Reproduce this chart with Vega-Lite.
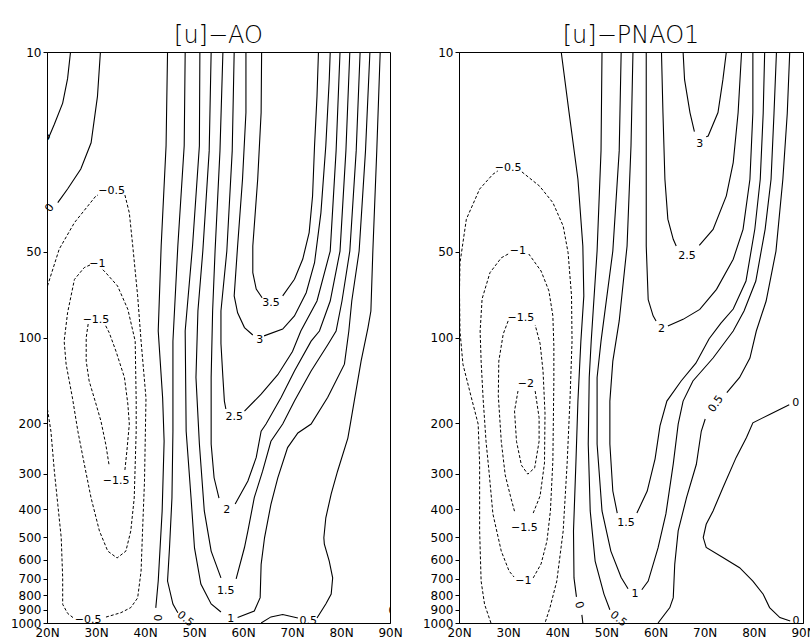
{
"$schema":"https://vega.github.io/schema/vega-lite/v6.json",
"padding":{"left":0,"top":23,"right":0,"bottom":0},
"spacing":9,
"config":{"view":{"stroke":"black","strokeWidth":1},
"axis":{"grid":false,"title":null,"domainColor":"black","tickColor":"black","labelColor":"black","labelFont":"DejaVu Sans","labelFontSize":12,"labelFlush":false,"labelOverlap":false},
"title":{"font":"DejaVu Sans","fontSize":24,"fontWeight":200,"color":"black","offset":-2}},
"datasets":{
"lines":[
{"g":"a","c":"A","v":0.5,"x":24.8,"p":10},{"g":"a","c":"A","v":0.5,"x":24.2,"p":12.4},{"g":"a","c":"A","v":0.5,"x":23.2,"p":15.1},{"g":"a","c":"A","v":0.5,"x":21.5,"p":17.9},{"g":"a","c":"A","v":0.5,"x":20.2,"p":20.2},
{"g":"a","c":"B","v":0,"x":30.9,"p":10},{"g":"a","c":"B","v":0,"x":30.3,"p":14.3},{"g":"a","c":"B","v":0,"x":29,"p":20.8},{"g":"a","c":"B","v":0,"x":26.9,"p":25.7},{"g":"a","c":"B","v":0,"x":24.2,"p":30.2},{"g":"a","c":"B","v":0,"x":22.2,"p":33.7},
{"g":"a","c":"C1","v":-0.5,"x":20.1,"p":66},{"g":"a","c":"C1","v":-0.5,"x":22.5,"p":49},{"g":"a","c":"C1","v":-0.5,"x":25.6,"p":39.6},{"g":"a","c":"C1","v":-0.5,"x":30,"p":31.9},{"g":"a","c":"C1","v":-0.5,"x":30.4,"p":31.7},
{"g":"a","c":"C2","v":-0.5,"x":35.9,"p":31.7},{"g":"a","c":"C2","v":-0.5,"x":36.8,"p":36.6},{"g":"a","c":"C2","v":-0.5,"x":37.5,"p":47.8},{"g":"a","c":"C2","v":-0.5,"x":38.5,"p":71.5},{"g":"a","c":"C2","v":-0.5,"x":39.2,"p":103},{"g":"a","c":"C2","v":-0.5,"x":40.2,"p":163},{"g":"a","c":"C2","v":-0.5,"x":39.9,"p":318},{"g":"a","c":"C2","v":-0.5,"x":39.5,"p":476},{"g":"a","c":"C2","v":-0.5,"x":39.2,"p":658},{"g":"a","c":"C2","v":-0.5,"x":38.5,"p":817},{"g":"a","c":"C2","v":-0.5,"x":37.1,"p":883},{"g":"a","c":"C2","v":-0.5,"x":35.1,"p":920},{"g":"a","c":"C2","v":-0.5,"x":31.7,"p":957},
{"g":"a","c":"C3","v":-0.5,"x":25.3,"p":957},{"g":"a","c":"C3","v":-0.5,"x":24.2,"p":925},{"g":"a","c":"C3","v":-0.5,"x":23.2,"p":860},{"g":"a","c":"C3","v":-0.5,"x":23.2,"p":693},{"g":"a","c":"C3","v":-0.5,"x":22.9,"p":502},{"g":"a","c":"C3","v":-0.5,"x":22.2,"p":384},{"g":"a","c":"C3","v":-0.5,"x":21.5,"p":294},{"g":"a","c":"C3","v":-0.5,"x":20.8,"p":213},{"g":"a","c":"C3","v":-0.5,"x":20,"p":174},
{"g":"a","c":"D","v":-1,"x":31.4,"p":57.9},{"g":"a","c":"D","v":-1,"x":32,"p":59.3},{"g":"a","c":"D","v":-1,"x":34.4,"p":66},{"g":"a","c":"D","v":-1,"x":36.5,"p":79.7},{"g":"a","c":"D","v":-1,"x":38,"p":103},{"g":"a","c":"D","v":-1,"x":38.2,"p":167},{"g":"a","c":"D","v":-1,"x":38.2,"p":213},{"g":"a","c":"D","v":-1,"x":37.8,"p":365},{"g":"a","c":"D","v":-1,"x":37.1,"p":476},{"g":"a","c":"D","v":-1,"x":36.1,"p":560},{"g":"a","c":"D","v":-1,"x":34.3,"p":592},{"g":"a","c":"D","v":-1,"x":32.4,"p":560},{"g":"a","c":"D","v":-1,"x":30.7,"p":476},{"g":"a","c":"D","v":-1,"x":29,"p":365},{"g":"a","c":"D","v":-1,"x":27.6,"p":277},{"g":"a","c":"D","v":-1,"x":26.3,"p":213},{"g":"a","c":"D","v":-1,"x":25.2,"p":163},{"g":"a","c":"D","v":-1,"x":23.9,"p":124},{"g":"a","c":"D","v":-1,"x":23.5,"p":103},{"g":"a","c":"D","v":-1,"x":24.2,"p":81.9},{"g":"a","c":"D","v":-1,"x":25.6,"p":62.6},{"g":"a","c":"D","v":-1,"x":27.6,"p":56.9},{"g":"a","c":"D","v":-1,"x":28.8,"p":55.7},
{"g":"a","c":"E1","v":-1.5,"x":28.4,"p":89.7},{"g":"a","c":"E1","v":-1.5,"x":28,"p":100},{"g":"a","c":"E1","v":-1.5,"x":28,"p":121},{"g":"a","c":"E1","v":-1.5,"x":28.6,"p":142},{"g":"a","c":"E1","v":-1.5,"x":30,"p":171},{"g":"a","c":"E1","v":-1.5,"x":31,"p":196},{"g":"a","c":"E1","v":-1.5,"x":32,"p":237},{"g":"a","c":"E1","v":-1.5,"x":32.7,"p":282},
{"g":"a","c":"E2","v":-1.5,"x":35.9,"p":291},{"g":"a","c":"E2","v":-1.5,"x":36.3,"p":250},{"g":"a","c":"E2","v":-1.5,"x":36.8,"p":201},{"g":"a","c":"E2","v":-1.5,"x":36.5,"p":171},{"g":"a","c":"E2","v":-1.5,"x":35.8,"p":138},{"g":"a","c":"E2","v":-1.5,"x":34.1,"p":112},{"g":"a","c":"E2","v":-1.5,"x":32.7,"p":96.2},{"g":"a","c":"E2","v":-1.5,"x":31.8,"p":89.7},
{"g":"a","c":"F","v":0,"x":44.6,"p":10},{"g":"a","c":"F","v":0,"x":44.3,"p":21.3},{"g":"a","c":"F","v":0,"x":43.3,"p":47.8},{"g":"a","c":"F","v":0,"x":42.7,"p":94.9},{"g":"a","c":"F","v":0,"x":43.6,"p":163},{"g":"a","c":"F","v":0,"x":43.9,"p":231},{"g":"a","c":"F","v":0,"x":43.5,"p":405},{"g":"a","c":"F","v":0,"x":42.7,"p":713},{"g":"a","c":"F","v":0,"x":42.2,"p":885},
{"g":"a","c":"G","v":0.5,"x":48.2,"p":10},{"g":"a","c":"G","v":0.5,"x":48,"p":21.3},{"g":"a","c":"G","v":0.5,"x":46.7,"p":47.8},{"g":"a","c":"G","v":0.5,"x":45.7,"p":103},{"g":"a","c":"G","v":0.5,"x":45.7,"p":213},{"g":"a","c":"G","v":0.5,"x":45.5,"p":365},{"g":"a","c":"G","v":0.5,"x":45,"p":546},{"g":"a","c":"G","v":0.5,"x":44.6,"p":713},{"g":"a","c":"G","v":0.5,"x":45.7,"p":858},{"g":"a","c":"G","v":0.5,"x":46.7,"p":920},
{"g":"a","c":"H1","v":1,"x":51.2,"p":10},{"g":"a","c":"H1","v":1,"x":51.1,"p":21.3},{"g":"a","c":"H1","v":1,"x":49.7,"p":47.8},{"g":"a","c":"H1","v":1,"x":48.2,"p":94.9},{"g":"a","c":"H1","v":1,"x":48.4,"p":213},{"g":"a","c":"H1","v":1,"x":49.4,"p":365},{"g":"a","c":"H1","v":1,"x":50.1,"p":546},{"g":"a","c":"H1","v":1,"x":51.4,"p":730},{"g":"a","c":"H1","v":1,"x":53.5,"p":858},{"g":"a","c":"H1","v":1,"x":55.5,"p":915},
{"g":"a","c":"H2","v":1,"x":58.9,"p":957},{"g":"a","c":"H2","v":1,"x":62.3,"p":908},{"g":"a","c":"H2","v":1,"x":63.5,"p":815},{"g":"a","c":"H2","v":1,"x":63.7,"p":623},{"g":"a","c":"H2","v":1,"x":64.4,"p":502},{"g":"a","c":"H2","v":1,"x":65.7,"p":384},{"g":"a","c":"H2","v":1,"x":67.1,"p":310},{"g":"a","c":"H2","v":1,"x":69.1,"p":243},{"g":"a","c":"H2","v":1,"x":71.2,"p":216},{"g":"a","c":"H2","v":1,"x":73.9,"p":201},{"g":"a","c":"H2","v":1,"x":77.3,"p":162},{"g":"a","c":"H2","v":1,"x":80.7,"p":124},{"g":"a","c":"H2","v":1,"x":81.6,"p":94.9},{"g":"a","c":"H2","v":1,"x":82.2,"p":74.5},{"g":"a","c":"H2","v":1,"x":83.7,"p":49.8},{"g":"a","c":"H2","v":1,"x":85,"p":22.2},{"g":"a","c":"H2","v":1,"x":85.9,"p":10},
{"g":"a","c":"I1","v":1.5,"x":53.5,"p":10},{"g":"a","c":"I1","v":1.5,"x":53.1,"p":22.2},{"g":"a","c":"I1","v":1.5,"x":51.8,"p":49.8},{"g":"a","c":"I1","v":1.5,"x":50.8,"p":80.8},{"g":"a","c":"I1","v":1.5,"x":50.4,"p":138},{"g":"a","c":"I1","v":1.5,"x":51.1,"p":236},{"g":"a","c":"I1","v":1.5,"x":52.1,"p":405},{"g":"a","c":"I1","v":1.5,"x":53.5,"p":560},{"g":"a","c":"I1","v":1.5,"x":55.5,"p":695},
{"g":"a","c":"I2","v":1.5,"x":58.6,"p":701},{"g":"a","c":"I2","v":1.5,"x":60.3,"p":544},{"g":"a","c":"I2","v":1.5,"x":61,"p":476},{"g":"a","c":"I2","v":1.5,"x":62.3,"p":364},{"g":"a","c":"I2","v":1.5,"x":64,"p":294},{"g":"a","c":"I2","v":1.5,"x":65.7,"p":231},{"g":"a","c":"I2","v":1.5,"x":68.1,"p":201},{"g":"a","c":"I2","v":1.5,"x":70.5,"p":167},{"g":"a","c":"I2","v":1.5,"x":73.9,"p":131},{"g":"a","c":"I2","v":1.5,"x":77.3,"p":106},{"g":"a","c":"I2","v":1.5,"x":79,"p":94.9},{"g":"a","c":"I2","v":1.5,"x":80.2,"p":74.5},{"g":"a","c":"I2","v":1.5,"x":81.8,"p":49.8},{"g":"a","c":"I2","v":1.5,"x":83.1,"p":22.2},{"g":"a","c":"I2","v":1.5,"x":83.9,"p":10},
{"g":"a","c":"J1","v":2,"x":55.9,"p":10},{"g":"a","c":"J1","v":2,"x":55.3,"p":22.2},{"g":"a","c":"J1","v":2,"x":54.3,"p":49.8},{"g":"a","c":"J1","v":2,"x":53.8,"p":80.8},{"g":"a","c":"J1","v":2,"x":53.5,"p":138},{"g":"a","c":"J1","v":2,"x":53.5,"p":236},{"g":"a","c":"J1","v":2,"x":54.1,"p":310},{"g":"a","c":"J1","v":2,"x":55.1,"p":365},
{"g":"a","c":"J2","v":2,"x":58.4,"p":383},{"g":"a","c":"J2","v":2,"x":61,"p":318},{"g":"a","c":"J2","v":2,"x":62.7,"p":263},{"g":"a","c":"J2","v":2,"x":63.7,"p":213},{"g":"a","c":"J2","v":2,"x":64.7,"p":201},{"g":"a","c":"J2","v":2,"x":67.8,"p":162},{"g":"a","c":"J2","v":2,"x":70.5,"p":131},{"g":"a","c":"J2","v":2,"x":73.9,"p":103},{"g":"a","c":"J2","v":2,"x":75.6,"p":94.9},{"g":"a","c":"J2","v":2,"x":77.8,"p":74.5},{"g":"a","c":"J2","v":2,"x":79.8,"p":49.8},{"g":"a","c":"J2","v":2,"x":81,"p":22.2},{"g":"a","c":"J2","v":2,"x":81.8,"p":10},
{"g":"a","c":"K1","v":2.5,"x":58.2,"p":10},{"g":"a","c":"K1","v":2.5,"x":57.8,"p":22.2},{"g":"a","c":"K1","v":2.5,"x":56.7,"p":49.8},{"g":"a","c":"K1","v":2.5,"x":55.5,"p":80.8},{"g":"a","c":"K1","v":2.5,"x":55.5,"p":105},{"g":"a","c":"K1","v":2.5,"x":55.9,"p":138},{"g":"a","c":"K1","v":2.5,"x":56.2,"p":167},{"g":"a","c":"K1","v":2.5,"x":56.5,"p":178},
{"g":"a","c":"K2","v":2.5,"x":60.3,"p":181},{"g":"a","c":"K2","v":2.5,"x":63.7,"p":158},{"g":"a","c":"K2","v":2.5,"x":67.1,"p":135},{"g":"a","c":"K2","v":2.5,"x":70.1,"p":112},{"g":"a","c":"K2","v":2.5,"x":71.8,"p":94.9},{"g":"a","c":"K2","v":2.5,"x":75.1,"p":74.5},{"g":"a","c":"K2","v":2.5,"x":77.8,"p":49.8},{"g":"a","c":"K2","v":2.5,"x":79,"p":22.2},{"g":"a","c":"K2","v":2.5,"x":79.8,"p":10},
{"g":"a","c":"L1","v":3,"x":60.6,"p":10},{"g":"a","c":"L1","v":3,"x":60.6,"p":16.3},{"g":"a","c":"L1","v":3,"x":59.9,"p":27.9},{"g":"a","c":"L1","v":3,"x":58.9,"p":47.8},{"g":"a","c":"L1","v":3,"x":58.2,"p":71.5},{"g":"a","c":"L1","v":3,"x":58.9,"p":81.9},{"g":"a","c":"L1","v":3,"x":60.3,"p":92.3},{"g":"a","c":"L1","v":3,"x":62,"p":98},
{"g":"a","c":"L2","v":3,"x":64.3,"p":98.7},{"g":"a","c":"L2","v":3,"x":68.1,"p":93.4},{"g":"a","c":"L2","v":3,"x":70.5,"p":84},{"g":"a","c":"L2","v":3,"x":72.9,"p":69.7},{"g":"a","c":"L2","v":3,"x":74.6,"p":54.7},{"g":"a","c":"L2","v":3,"x":75.9,"p":36.6},{"g":"a","c":"L2","v":3,"x":76.9,"p":21.3},{"g":"a","c":"L2","v":3,"x":77.6,"p":12.5},{"g":"a","c":"L2","v":3,"x":77.8,"p":10},
{"g":"a","c":"M1","v":3.5,"x":63.8,"p":10},{"g":"a","c":"M1","v":3.5,"x":63.7,"p":16.3},{"g":"a","c":"M1","v":3.5,"x":63,"p":27.9},{"g":"a","c":"M1","v":3.5,"x":62,"p":47.8},{"g":"a","c":"M1","v":3.5,"x":62,"p":59.3},{"g":"a","c":"M1","v":3.5,"x":62.7,"p":67.7},{"g":"a","c":"M1","v":3.5,"x":63.9,"p":72.6},
{"g":"a","c":"M2","v":3.5,"x":68.1,"p":71.5},{"g":"a","c":"M2","v":3.5,"x":70.5,"p":62.5},{"g":"a","c":"M2","v":3.5,"x":72.2,"p":53.1},{"g":"a","c":"M2","v":3.5,"x":73.5,"p":42.9},{"g":"a","c":"M2","v":3.5,"x":74.2,"p":31.9},{"g":"a","c":"M2","v":3.5,"x":74.6,"p":21.3},{"g":"a","c":"M2","v":3.5,"x":75.1,"p":14.3},{"g":"a","c":"M2","v":3.5,"x":75.4,"p":10},
{"g":"a","c":"N1","v":0.5,"x":88,"p":10},{"g":"a","c":"N1","v":0.5,"x":87.3,"p":22.2},{"g":"a","c":"N1","v":0.5,"x":86.5,"p":49.8},{"g":"a","c":"N1","v":0.5,"x":86.1,"p":80.8},{"g":"a","c":"N1","v":0.5,"x":85.5,"p":92.5},{"g":"a","c":"N1","v":0.5,"x":84.1,"p":121},{"g":"a","c":"N1","v":0.5,"x":82.7,"p":167},{"g":"a","c":"N1","v":0.5,"x":81.9,"p":201},{"g":"a","c":"N1","v":0.5,"x":81.4,"p":225},{"g":"a","c":"N1","v":0.5,"x":79.3,"p":294},{"g":"a","c":"N1","v":0.5,"x":78,"p":353},{"g":"a","c":"N1","v":0.5,"x":76.9,"p":428},{"g":"a","c":"N1","v":0.5,"x":76.5,"p":503},{"g":"a","c":"N1","v":0.5,"x":76.6,"p":529},{"g":"a","c":"N1","v":0.5,"x":77.6,"p":607},{"g":"a","c":"N1","v":0.5,"x":78.3,"p":695},{"g":"a","c":"N1","v":0.5,"x":78,"p":792},{"g":"a","c":"N1","v":0.5,"x":76.9,"p":858},{"g":"a","c":"N1","v":0.5,"x":75.1,"p":960},
{"g":"a","c":"N2","v":0.5,"x":71.2,"p":960},{"g":"a","c":"N2","v":0.5,"x":68.1,"p":934},{"g":"a","c":"N2","v":0.5,"x":65.7,"p":952},{"g":"a","c":"N2","v":0.5,"x":63.7,"p":1000},
{"g":"b","c":"P1","v":-0.5,"x":26.5,"p":1000},{"g":"b","c":"P1","v":-0.5,"x":25.2,"p":860},{"g":"b","c":"P1","v":-0.5,"x":24.5,"p":713},{"g":"b","c":"P1","v":-0.5,"x":24.2,"p":476},{"g":"b","c":"P1","v":-0.5,"x":24.2,"p":278},{"g":"b","c":"P1","v":-0.5,"x":23.9,"p":201},{"g":"b","c":"P1","v":-0.5,"x":22.5,"p":162},{"g":"b","c":"P1","v":-0.5,"x":20.8,"p":124},{"g":"b","c":"P1","v":-0.5,"x":20.2,"p":94.9},{"g":"b","c":"P1","v":-0.5,"x":20.1,"p":68.7},{"g":"b","c":"P1","v":-0.5,"x":20.2,"p":54.8},{"g":"b","c":"P1","v":-0.5,"x":21.5,"p":38.5},{"g":"b","c":"P1","v":-0.5,"x":24.2,"p":30.2},{"g":"b","c":"P1","v":-0.5,"x":26.9,"p":26.8},{"g":"b","c":"P1","v":-0.5,"x":27.9,"p":26.1},
{"g":"b","c":"P2","v":-0.5,"x":32.8,"p":26.3},{"g":"b","c":"P2","v":-0.5,"x":36.4,"p":29.5},{"g":"b","c":"P2","v":-0.5,"x":39.1,"p":33.7},{"g":"b","c":"P2","v":-0.5,"x":41.2,"p":40.7},{"g":"b","c":"P2","v":-0.5,"x":42.2,"p":50.5},{"g":"b","c":"P2","v":-0.5,"x":42.9,"p":71.5},{"g":"b","c":"P2","v":-0.5,"x":43,"p":103},{"g":"b","c":"P2","v":-0.5,"x":42.6,"p":163},{"g":"b","c":"P2","v":-0.5,"x":42,"p":277},{"g":"b","c":"P2","v":-0.5,"x":41.2,"p":476},{"g":"b","c":"P2","v":-0.5,"x":39.9,"p":713},{"g":"b","c":"P2","v":-0.5,"x":38.5,"p":885},{"g":"b","c":"P2","v":-0.5,"x":37.5,"p":1000},
{"g":"b","c":"Q1","v":-1,"x":30,"p":51},{"g":"b","c":"Q1","v":-1,"x":28.6,"p":52.6},{"g":"b","c":"Q1","v":-1,"x":26.3,"p":59.3},{"g":"b","c":"Q1","v":-1,"x":24.7,"p":73.2},{"g":"b","c":"Q1","v":-1,"x":24.3,"p":94.9},{"g":"b","c":"Q1","v":-1,"x":24.5,"p":121},{"g":"b","c":"Q1","v":-1,"x":24.9,"p":163},{"g":"b","c":"Q1","v":-1,"x":25.5,"p":231},{"g":"b","c":"Q1","v":-1,"x":26.1,"p":294},{"g":"b","c":"Q1","v":-1,"x":26.9,"p":415},{"g":"b","c":"Q1","v":-1,"x":28.6,"p":560},{"g":"b","c":"Q1","v":-1,"x":30.2,"p":658},{"g":"b","c":"Q1","v":-1,"x":31.2,"p":690},
{"g":"b","c":"Q2","v":-1,"x":35.1,"p":695},{"g":"b","c":"Q2","v":-1,"x":36.7,"p":621},{"g":"b","c":"Q2","v":-1,"x":37.9,"p":516},{"g":"b","c":"Q2","v":-1,"x":38.6,"p":405},{"g":"b","c":"Q2","v":-1,"x":39.1,"p":271},{"g":"b","c":"Q2","v":-1,"x":39.2,"p":196},{"g":"b","c":"Q2","v":-1,"x":39.3,"p":142},{"g":"b","c":"Q2","v":-1,"x":39.3,"p":107},{"g":"b","c":"Q2","v":-1,"x":39.1,"p":84},{"g":"b","c":"Q2","v":-1,"x":38.3,"p":68.7},{"g":"b","c":"Q2","v":-1,"x":36.7,"p":58.5},{"g":"b","c":"Q2","v":-1,"x":34.2,"p":51},
{"g":"b","c":"R1","v":-1.5,"x":30,"p":87.5},{"g":"b","c":"R1","v":-1.5,"x":29,"p":97.2},{"g":"b","c":"R1","v":-1.5,"x":28.1,"p":121},{"g":"b","c":"R1","v":-1.5,"x":28,"p":160},{"g":"b","c":"R1","v":-1.5,"x":28.6,"p":231},{"g":"b","c":"R1","v":-1.5,"x":29.4,"p":303},{"g":"b","c":"R1","v":-1.5,"x":30.6,"p":367},{"g":"b","c":"R1","v":-1.5,"x":31.4,"p":412},
{"g":"b","c":"R2","v":-1.5,"x":35.1,"p":412},{"g":"b","c":"R2","v":-1.5,"x":36.5,"p":359},{"g":"b","c":"R2","v":-1.5,"x":37.4,"p":275},{"g":"b","c":"R2","v":-1.5,"x":37.5,"p":184},{"g":"b","c":"R2","v":-1.5,"x":37.1,"p":131},{"g":"b","c":"R2","v":-1.5,"x":36.5,"p":105},{"g":"b","c":"R2","v":-1.5,"x":35.5,"p":90.4},
{"g":"b","c":"S","v":-2,"x":35.5,"p":154},{"g":"b","c":"S","v":-2,"x":36.3,"p":191},{"g":"b","c":"S","v":-2,"x":36.3,"p":231},{"g":"b","c":"S","v":-2,"x":35.4,"p":286},{"g":"b","c":"S","v":-2,"x":34,"p":301},{"g":"b","c":"S","v":-2,"x":32.7,"p":280},{"g":"b","c":"S","v":-2,"x":31.7,"p":231},{"g":"b","c":"S","v":-2,"x":31.3,"p":181},{"g":"b","c":"S","v":-2,"x":32,"p":154},
{"g":"b","c":"T","v":0,"x":40.8,"p":10},{"g":"b","c":"T","v":0,"x":42.4,"p":16.3},{"g":"b","c":"T","v":0,"x":44.2,"p":27.9},{"g":"b","c":"T","v":0,"x":45.2,"p":47.8},{"g":"b","c":"T","v":0,"x":45.4,"p":71.5},{"g":"b","c":"T","v":0,"x":44.8,"p":103},{"g":"b","c":"T","v":0,"x":44.2,"p":167},{"g":"b","c":"T","v":0,"x":43.8,"p":271},{"g":"b","c":"T","v":0,"x":43.3,"p":476},{"g":"b","c":"T","v":0,"x":43.4,"p":695},{"g":"b","c":"T","v":0,"x":43.9,"p":810},
{"g":"b","c":"T2","v":0,"x":45,"p":937},{"g":"b","c":"T2","v":0,"x":45.2,"p":1000},
{"g":"b","c":"U","v":0.5,"x":49.1,"p":10},{"g":"b","c":"U","v":0.5,"x":48.9,"p":22.2},{"g":"b","c":"U","v":0.5,"x":48.1,"p":49.8},{"g":"b","c":"U","v":0.5,"x":47.3,"p":80.8},{"g":"b","c":"U","v":0.5,"x":46.9,"p":103},{"g":"b","c":"U","v":0.5,"x":46.5,"p":138},{"g":"b","c":"U","v":0.5,"x":46.3,"p":236},{"g":"b","c":"U","v":0.5,"x":46.7,"p":405},{"g":"b","c":"U","v":0.5,"x":47.7,"p":607},{"g":"b","c":"U","v":0.5,"x":49.5,"p":792},{"g":"b","c":"U","v":0.5,"x":50.7,"p":899},
{"g":"b","c":"V1","v":1,"x":53,"p":10},{"g":"b","c":"V1","v":1,"x":52.6,"p":22.2},{"g":"b","c":"V1","v":1,"x":51.3,"p":49.8},{"g":"b","c":"V1","v":1,"x":49.7,"p":80.8},{"g":"b","c":"V1","v":1,"x":48.9,"p":103},{"g":"b","c":"V1","v":1,"x":48.1,"p":138},{"g":"b","c":"V1","v":1,"x":48.1,"p":236},{"g":"b","c":"V1","v":1,"x":49.1,"p":405},{"g":"b","c":"V1","v":1,"x":50.9,"p":560},{"g":"b","c":"V1","v":1,"x":53,"p":693},{"g":"b","c":"V1","v":1,"x":54.4,"p":759},
{"g":"b","c":"V2","v":1,"x":57.2,"p":765},{"g":"b","c":"V2","v":1,"x":58.5,"p":713},{"g":"b","c":"V2","v":1,"x":60.5,"p":546},{"g":"b","c":"V2","v":1,"x":62.1,"p":415},{"g":"b","c":"V2","v":1,"x":63.6,"p":277},{"g":"b","c":"V2","v":1,"x":64.6,"p":201},{"g":"b","c":"V2","v":1,"x":65.6,"p":167},{"g":"b","c":"V2","v":1,"x":67.6,"p":142},{"g":"b","c":"V2","v":1,"x":71.7,"p":118},{"g":"b","c":"V2","v":1,"x":75.8,"p":94.9},{"g":"b","c":"V2","v":1,"x":78,"p":80.8},{"g":"b","c":"V2","v":1,"x":80.4,"p":63.4},{"g":"b","c":"V2","v":1,"x":82.3,"p":41.7},{"g":"b","c":"V2","v":1,"x":83.5,"p":27.9},{"g":"b","c":"V2","v":1,"x":84.1,"p":16.4},{"g":"b","c":"V2","v":1,"x":84.6,"p":10},
{"g":"b","c":"W1","v":1.5,"x":55.4,"p":10},{"g":"b","c":"W1","v":1.5,"x":55,"p":21.3},{"g":"b","c":"W1","v":1.5,"x":54.2,"p":47.8},{"g":"b","c":"W1","v":1.5,"x":52.6,"p":87.5},{"g":"b","c":"W1","v":1.5,"x":51.3,"p":121},{"g":"b","c":"W1","v":1.5,"x":50.7,"p":167},{"g":"b","c":"W1","v":1.5,"x":50.7,"p":236},{"g":"b","c":"W1","v":1.5,"x":51.3,"p":345},{"g":"b","c":"W1","v":1.5,"x":52.2,"p":412},
{"g":"b","c":"W2","v":1.5,"x":56.2,"p":412},{"g":"b","c":"W2","v":1.5,"x":58.3,"p":345},{"g":"b","c":"W2","v":1.5,"x":59.9,"p":266},{"g":"b","c":"W2","v":1.5,"x":60.9,"p":204},{"g":"b","c":"W2","v":1.5,"x":62.3,"p":167},{"g":"b","c":"W2","v":1.5,"x":65.2,"p":142},{"g":"b","c":"W2","v":1.5,"x":68.2,"p":123},{"g":"b","c":"W2","v":1.5,"x":70.9,"p":101},{"g":"b","c":"W2","v":1.5,"x":73.3,"p":89},{"g":"b","c":"W2","v":1.5,"x":75.8,"p":79.5},{"g":"b","c":"W2","v":1.5,"x":78.4,"p":63.4},{"g":"b","c":"W2","v":1.5,"x":80.2,"p":41.7},{"g":"b","c":"W2","v":1.5,"x":81.3,"p":27.9},{"g":"b","c":"W2","v":1.5,"x":81.9,"p":16.4},{"g":"b","c":"W2","v":1.5,"x":82.2,"p":10},
{"g":"b","c":"X1","v":2,"x":58.1,"p":10},{"g":"b","c":"X1","v":2,"x":58.1,"p":21.3},{"g":"b","c":"X1","v":2,"x":58.1,"p":47.8},{"g":"b","c":"X1","v":2,"x":58.5,"p":73.7},{"g":"b","c":"X1","v":2,"x":59.5,"p":84},{"g":"b","c":"X1","v":2,"x":60.1,"p":87.5},
{"g":"b","c":"X2","v":2,"x":62.5,"p":91.1},{"g":"b","c":"X2","v":2,"x":65.6,"p":86.4},{"g":"b","c":"X2","v":2,"x":69,"p":79.7},{"g":"b","c":"X2","v":2,"x":72.4,"p":67.8},{"g":"b","c":"X2","v":2,"x":75.8,"p":53.2},{"g":"b","c":"X2","v":2,"x":77.8,"p":41.8},{"g":"b","c":"X2","v":2,"x":79.2,"p":27.9},{"g":"b","c":"X2","v":2,"x":79.8,"p":16.3},{"g":"b","c":"X2","v":2,"x":79.8,"p":10},
{"g":"b","c":"Y1","v":0.5,"x":60.5,"p":1000},{"g":"b","c":"Y1","v":0.5,"x":62.9,"p":883},{"g":"b","c":"Y1","v":0.5,"x":63.6,"p":815},{"g":"b","c":"Y1","v":0.5,"x":63.9,"p":623},{"g":"b","c":"Y1","v":0.5,"x":64.6,"p":476},{"g":"b","c":"Y1","v":0.5,"x":66.3,"p":364},{"g":"b","c":"Y1","v":0.5,"x":68.3,"p":278},{"g":"b","c":"Y1","v":0.5,"x":69.3,"p":213},{"g":"b","c":"Y1","v":0.5,"x":70.1,"p":193},
{"g":"b","c":"Y2","v":0.5,"x":74.5,"p":156},{"g":"b","c":"Y2","v":0.5,"x":77.1,"p":138},{"g":"b","c":"Y2","v":0.5,"x":79.2,"p":118},{"g":"b","c":"Y2","v":0.5,"x":80.5,"p":94.9},{"g":"b","c":"Y2","v":0.5,"x":82.5,"p":74.5},{"g":"b","c":"Y2","v":0.5,"x":84.5,"p":49.8},{"g":"b","c":"Y2","v":0.5,"x":85.9,"p":27.9},{"g":"b","c":"Y2","v":0.5,"x":86.8,"p":16.4},{"g":"b","c":"Y2","v":0.5,"x":87.3,"p":10},
{"g":"b","c":"Z","v":0,"x":87.2,"p":172},{"g":"b","c":"Z","v":0,"x":83.2,"p":186},{"g":"b","c":"Z","v":0,"x":79.8,"p":199},{"g":"b","c":"Z","v":0,"x":78.5,"p":224},{"g":"b","c":"Z","v":0,"x":76.4,"p":263},{"g":"b","c":"Z","v":0,"x":73.7,"p":336},{"g":"b","c":"Z","v":0,"x":71.7,"p":405},{"g":"b","c":"Z","v":0,"x":70.3,"p":451},{"g":"b","c":"Z","v":0,"x":69.7,"p":502},{"g":"b","c":"Z","v":0,"x":70.3,"p":544},{"g":"b","c":"Z","v":0,"x":73.7,"p":590},{"g":"b","c":"Z","v":0,"x":77.1,"p":640},{"g":"b","c":"Z","v":0,"x":79.8,"p":713},{"g":"b","c":"Z","v":0,"x":81.9,"p":793},{"g":"b","c":"Z","v":0,"x":83.2,"p":883},{"g":"b","c":"Z","v":0,"x":85.3,"p":957},{"g":"b","c":"Z","v":0,"x":87.4,"p":984},
{"g":"b","c":"AA1","v":3,"x":65.6,"p":10},{"g":"b","c":"AA1","v":3,"x":65.9,"p":12.5},{"g":"b","c":"AA1","v":3,"x":67,"p":16.3},{"g":"b","c":"AA1","v":3,"x":67.9,"p":19},
{"g":"b","c":"AA2","v":3,"x":70.3,"p":19.8},{"g":"b","c":"AA2","v":3,"x":70.7,"p":19.7},{"g":"b","c":"AA2","v":3,"x":72.7,"p":16.3},{"g":"b","c":"AA2","v":3,"x":73.7,"p":12.5},{"g":"b","c":"AA2","v":3,"x":74.4,"p":10},
{"g":"b","c":"AB1","v":2.5,"x":61.2,"p":10},{"g":"b","c":"AB1","v":2.5,"x":61.5,"p":16.3},{"g":"b","c":"AB1","v":2.5,"x":61.9,"p":27.9},{"g":"b","c":"AB1","v":2.5,"x":62.5,"p":38.5},{"g":"b","c":"AB1","v":2.5,"x":63.6,"p":45.3},{"g":"b","c":"AB1","v":2.5,"x":64.2,"p":47.8},
{"g":"b","c":"AB2","v":2.5,"x":68.9,"p":47.6},{"g":"b","c":"AB2","v":2.5,"x":71.7,"p":41.8},{"g":"b","c":"AB2","v":2.5,"x":74.4,"p":31.9},{"g":"b","c":"AB2","v":2.5,"x":75.8,"p":24.4},{"g":"b","c":"AB2","v":2.5,"x":76.8,"p":16.3},{"g":"b","c":"AB2","v":2.5,"x":77.5,"p":10}
],
"labels":[
{"g":"a","id":"r1","t":"0","x":20.6,"p":35.2},
{"g":"a","id":"h","t":"−0.5","x":33.2,"p":30.7},
{"g":"a","id":"h","t":"−1","x":30.3,"p":55.4},
{"g":"a","id":"h","t":"−1.5","x":30,"p":86.9},
{"g":"a","id":"h","t":"−1.5","x":34.1,"p":318},
{"g":"a","id":"h","t":"−0.5","x":28.4,"p":976},
{"g":"a","id":"r2","t":"0","x":42.4,"p":959},
{"g":"a","id":"r3","t":"0.5","x":48.2,"p":968},
{"g":"a","id":"h","t":"1","x":57.5,"p":968},
{"g":"a","id":"h","t":"1.5","x":56.5,"p":773},
{"g":"a","id":"h","t":"2","x":56.7,"p":401},
{"g":"a","id":"h","t":"2.5","x":58.2,"p":190},
{"g":"a","id":"h","t":"3","x":63.4,"p":102},
{"g":"a","id":"h","t":"3.5","x":65.7,"p":75.7},
{"g":"a","id":"h","t":"0.5","x":73.3,"p":984},
{"g":"a","id":"e1","t":"0.5","x":19.4,"p":20.5},
{"g":"a","id":"e2","t":"0","x":90.4,"p":908},
{"g":"b","id":"h","t":"−0.5","x":30,"p":25.5},
{"g":"b","id":"h","t":"−1","x":32,"p":49.8},
{"g":"b","id":"h","t":"−1.5","x":32.6,"p":85.3},
{"g":"b","id":"h","t":"−2","x":33.6,"p":145},
{"g":"b","id":"h","t":"−1.5","x":33.3,"p":463},
{"g":"b","id":"h","t":"−1","x":33.1,"p":713},
{"g":"b","id":"r4","t":"0","x":44.4,"p":865},
{"g":"b","id":"r3","t":"0.5","x":52.4,"p":968},
{"g":"b","id":"h","t":"1","x":55.8,"p":792},
{"g":"b","id":"h","t":"1.5","x":54,"p":445},
{"g":"b","id":"h","t":"2","x":61.2,"p":93.4},
{"g":"b","id":"h","t":"2.5","x":66.4,"p":51.8},
{"g":"b","id":"h","t":"3","x":69,"p":21},
{"g":"b","id":"r5","t":"0.5","x":72.3,"p":171},
{"g":"b","id":"h","t":"0","x":88.5,"p":170},
{"g":"b","id":"h","t":"0","x":88.6,"p":984}
]},
"hconcat":[
{"width":343,"height":571,"title":{"text":"[u]−AO"},
"encoding":{
"x":{"field":"x","type":"quantitative","scale":{"domain":[20,90],"nice":false,"zero":false},"axis":{"values":[20,30,40,50,60,70,80,90],"labelExpr":"datum.value + 'N'","tickSize":0,"labelPadding":4}},
"y":{"field":"p","type":"quantitative","scale":{"type":"log","domain":[10,1000],"reverse":true,"nice":false},"axis":{"values":[10,50,100,200,300,400,500,600,700,800,900,1000],"format":"d","tickSize":4,"labelPadding":2,"minExtent":46,"maxExtent":46}}},
"layer":[
{"data":{"name":"lines"},"transform":[{"filter":"datum.g==='a' && datum.v<0"}],"mark":{"type":"line","color":"black","strokeWidth":1,"strokeDash":[3,2],"clip":true},"encoding":{"detail":{"field":"c"},"order":{"value":null}}},
{"data":{"name":"lines"},"transform":[{"filter":"datum.g==='a' && datum.v>=0"}],"mark":{"type":"line","color":"black","strokeWidth":1.1,"clip":true},"encoding":{"detail":{"field":"c"},"order":{"value":null}}},
{"data":{"name":"labels"},"transform":[{"filter":"datum.g==='a' && datum.id[0]!=='e'"}],"mark":{"type":"text","font":"DejaVu Sans","fontSize":11,"color":"black"},"encoding":{"text":{"field":"t"},"angle":{"condition":[{"test":"datum.id==='r1'","value":-54},{"test":"datum.id==='r2'","value":90},{"test":"datum.id==='r3'","value":40},{"test":"datum.id==='r4'","value":75},{"test":"datum.id==='r5'","value":-55}],"value":0}}},
{"data":{"name":"labels"},"transform":[{"filter":"datum.g==='a' && datum.id[0]==='e'"}],"mark":{"type":"text","font":"DejaVu Sans","fontSize":11,"color":"black","clip":true},"encoding":{"text":{"field":"t"},"angle":{"condition":[{"test":"datum.id==='e1'","value":-60}],"value":0}}}
]},
{"width":344,"height":571,"title":{"text":"[u]−PNAO1"},
"encoding":{
"x":{"field":"x","type":"quantitative","scale":{"domain":[20,90],"nice":false,"zero":false},"axis":{"values":[20,30,40,50,60,70,80,90],"labelExpr":"datum.value + 'N'","tickSize":0,"labelPadding":4}},
"y":{"field":"p","type":"quantitative","scale":{"type":"log","domain":[10,1000],"reverse":true,"nice":false},"axis":{"values":[10,50,100,200,300,400,500,600,700,800,900,1000],"format":"d","tickSize":4,"labelPadding":2,"minExtent":46,"maxExtent":46}}},
"layer":[
{"data":{"name":"lines"},"transform":[{"filter":"datum.g==='b' && datum.v<0"}],"mark":{"type":"line","color":"black","strokeWidth":1,"strokeDash":[3,2],"clip":true},"encoding":{"detail":{"field":"c"},"order":{"value":null}}},
{"data":{"name":"lines"},"transform":[{"filter":"datum.g==='b' && datum.v>=0"}],"mark":{"type":"line","color":"black","strokeWidth":1.1,"clip":true},"encoding":{"detail":{"field":"c"},"order":{"value":null}}},
{"data":{"name":"labels"},"transform":[{"filter":"datum.g==='b'"}],"mark":{"type":"text","font":"DejaVu Sans","fontSize":11,"color":"black"},"encoding":{"text":{"field":"t"},"angle":{"condition":[{"test":"datum.id==='r1'","value":-54},{"test":"datum.id==='r2'","value":90},{"test":"datum.id==='r3'","value":40},{"test":"datum.id==='r4'","value":75},{"test":"datum.id==='r5'","value":-55}],"value":0}}}
]}
]
}
